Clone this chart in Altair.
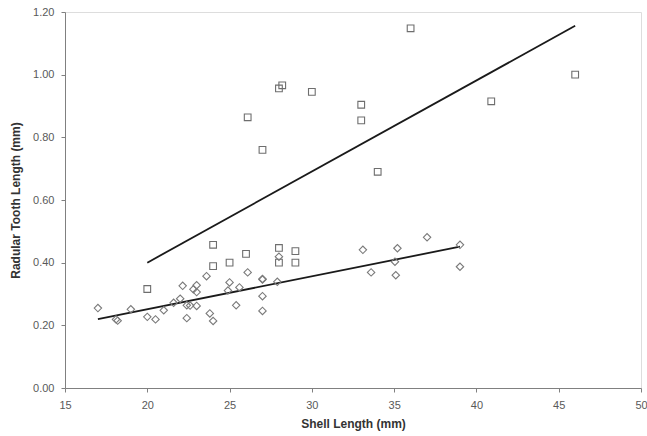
import altair as alt
import pandas as pd

# Upper group (squares)
sq_x = [20, 24, 24, 25, 26, 28, 28, 29, 29, 26.1, 27, 28, 28.2, 30, 33, 33, 34, 36, 40.9, 46]
sq_y = [0.316, 0.457, 0.389, 0.400, 0.428, 0.447, 0.400, 0.437, 0.400, 0.864, 0.760, 0.956, 0.966, 0.945, 0.904, 0.854, 0.690, 1.148, 0.915, 1.000]

# Lower group (diamonds)
dm_x = [17.0, 18.1, 18.2, 19.0, 20.0, 20.5, 21.0, 21.6, 22.0, 22.15, 22.4, 22.4, 22.6, 22.8, 23.0, 23.0, 23.0,
        23.6, 23.8, 24.0, 25.0, 24.9, 25.4, 25.6, 26.1, 27.0, 27.0, 27.0, 27.0, 27.9, 28.0,
        33.1, 33.6, 35.2, 35.05, 35.1, 37.0, 39.0, 39.0]
dm_y = [0.255, 0.219, 0.215, 0.251, 0.227, 0.219, 0.248, 0.272, 0.285, 0.326, 0.223, 0.264, 0.263, 0.315, 0.328, 0.306, 0.262,
        0.357, 0.238, 0.214, 0.337, 0.311, 0.264, 0.321, 0.369, 0.348, 0.346, 0.293, 0.246, 0.339, 0.419,
        0.441, 0.369, 0.446, 0.403, 0.360, 0.481, 0.457, 0.387]

# Trend lines (endpoints)
tr_group = ["upper", "upper", "lower", "lower"]
tr_x = [20, 46, 17.0, 39.0]
tr_y = [0.400, 1.156, 0.220, 0.451]

x_ticks = [15, 20, 25, 30, 35, 40, 45, 50]
y_ticks = [0.0, 0.2, 0.4, 0.6, 0.8, 1.0, 1.2]

sq = pd.DataFrame({"x": sq_x, "y": sq_y})
dm = pd.DataFrame({"x": dm_x, "y": dm_y})
tr = pd.DataFrame({"g": tr_group, "x": tr_x, "y": tr_y})

FONT = "Liberation Sans"

xs = alt.Scale(domain=[15, 50], nice=False, zero=False)
ys = alt.Scale(domain=[0, 1.2], nice=False)

xenc = alt.X("x:Q", scale=xs, axis=alt.Axis(
    title="Shell Length (mm)", values=x_ticks, format="d", grid=False,
    tickSize=4, labelPadding=7, titlePadding=8, domainColor="#808080", tickColor="#808080",
    labelColor="#595959", titleColor="#333333", labelFontSize=11, titleFontSize=12,
    labelFont=FONT, titleFont=FONT, titleFontWeight="bold", labelFlush=False))
yenc = alt.Y("y:Q", scale=ys, axis=alt.Axis(
    title="Radular Tooth Length (mm)", values=y_ticks, format=".2f", grid=False,
    tickSize=4, labelPadding=7, titlePadding=10, domainColor="#808080", tickColor="#808080",
    labelColor="#595959", titleColor="#333333", labelFontSize=11, titleFontSize=12,
    labelFont=FONT, titleFont=FONT, titleFontWeight="bold", labelFlush=False))

squares = alt.Chart(sq).mark_point(shape="square", size=45, filled=False,
                                   stroke="#6e6e6e", strokeWidth=1.1, opacity=1).encode(x=xenc, y=yenc)
diamonds = alt.Chart(dm).mark_point(shape="diamond", size=55, filled=False,
                                    stroke="#7a7a7a", strokeWidth=1.1, opacity=1).encode(x="x:Q", y="y:Q")
lines = alt.Chart(tr).mark_line(color="#1a1a1a", strokeWidth=1.8).encode(x="x:Q", y="y:Q", detail="g:N")

chart = alt.layer(lines, squares, diamonds).properties(
    width=576, height=376,
    autosize=alt.AutoSizeParams(type="none"),
    padding={"left": 65, "top": 12, "right": 6, "bottom": 48},
).configure_view(stroke=None).configure(background="white")

chart.save("out.html", embed_options={"renderer": "svg", "actions": False})
